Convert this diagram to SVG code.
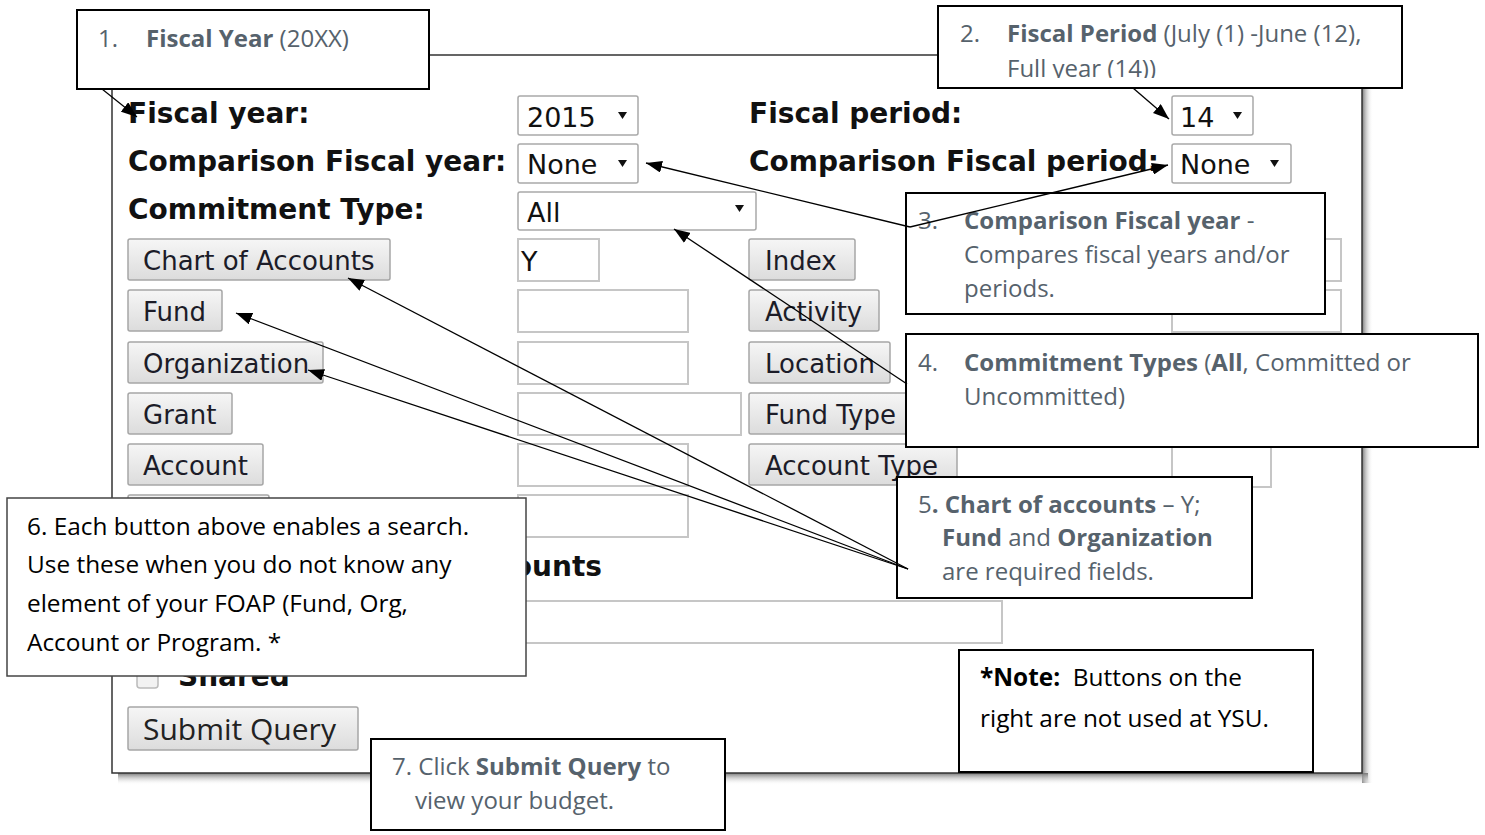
<svg xmlns="http://www.w3.org/2000/svg" width="1485" height="835" viewBox="0 0 1485 835">
<style>
.lbl{font-family:"DejaVu Sans",Verdana,sans-serif;font-weight:bold;font-size:28px;fill:#111}
.btn{fill:url(#btnG);stroke:#a6a6a6;stroke-width:1.5}
.bt{font-family:"DejaVu Sans",Verdana,sans-serif;font-size:26px;fill:#1c1c28}
.inp{fill:#fff;stroke:#c6c6c6;stroke-width:2}
.sel{fill:#fff;stroke:#a9a9a9;stroke-width:1.5}
.st{font-family:"DejaVu Sans",Verdana,sans-serif;font-size:27px;fill:#111}
.box{fill:#fff;stroke:#000;stroke-width:2}
.ct{font-family:"Open Sans","Liberation Sans",sans-serif;font-size:24px;fill:#56626c}
.cb{font-family:"Open Sans","Liberation Sans",sans-serif;font-size:24.4px;fill:#000}
.b{font-weight:bold}
.conn line{stroke:#000;stroke-width:1.3;marker-end:url(#ah)}
</style>
<defs>
<linearGradient id="btnG" x1="0" y1="0" x2="0" y2="1"><stop offset="0" stop-color="#f6f6f6"/><stop offset="1" stop-color="#dcdcdc"/></linearGradient>
<linearGradient id="shR" x1="0" y1="0" x2="1" y2="0"><stop offset="0" stop-color="#777"/><stop offset="1" stop-color="#fff" stop-opacity="0"/></linearGradient>
<linearGradient id="shB" x1="0" y1="0" x2="0" y2="1"><stop offset="0" stop-color="#777"/><stop offset="1" stop-color="#fff" stop-opacity="0"/></linearGradient>
<marker id="ah" markerUnits="userSpaceOnUse" markerWidth="16" markerHeight="12" refX="16" refY="6" orient="auto"><path d="M0,0 L16,6 L0,12 z" fill="#000"/></marker>
<clipPath id="clip2"><rect x="938" y="5" width="464" height="73"/></clipPath>
</defs>
<rect width="1485" height="835" fill="#fff"/>

<g id="frame">
<rect x="1362" y="62" width="11" height="721" fill="url(#shR)"/>
<rect x="118" y="773" width="1250" height="12" fill="url(#shB)"/>
<rect x="112" y="55" width="1250" height="718" fill="#fff" stroke="#333" stroke-width="1.5"/>
</g>

<g id="form">
<text class="lbl" x="128" y="123">Fiscal year:</text>
<text class="lbl" x="128" y="171">Comparison Fiscal year:</text>
<text class="lbl" x="128" y="219">Commitment Type:</text>
<text class="lbl" x="749" y="123">Fiscal period:</text>
<text class="lbl" x="749" y="171">Comparison Fiscal period:</text>

<rect class="sel" x="518" y="96" width="120" height="39" rx="2"/>
<text class="st" x="527" y="127">2015</text>
<polygon points="618,112 627,112 622.5,119" fill="#111"/>
<rect class="sel" x="518" y="144" width="120" height="39" rx="2"/>
<text class="st" x="527" y="174">None</text>
<polygon points="618,160 627,160 622.5,167" fill="#111"/>
<rect class="sel" x="518" y="192" width="238" height="38" rx="2"/>
<text class="st" x="527" y="222">All</text>
<polygon points="735,205 744,205 739.5,212" fill="#111"/>
<rect class="sel" x="1172" y="96" width="81" height="39" rx="2"/>
<text class="st" x="1180" y="127">14</text>
<polygon points="1233,112 1242,112 1237.5,119" fill="#111"/>
<rect class="sel" x="1172" y="144" width="119" height="39" rx="2"/>
<text class="st" x="1180" y="174">None</text>
<polygon points="1270,160 1279,160 1274.5,167" fill="#111"/>

<rect class="btn" x="128" y="239" width="262" height="41" rx="2"/>
<text class="bt" x="143" y="270">Chart of Accounts</text>
<rect class="btn" x="128" y="290" width="94" height="41" rx="2"/>
<text class="bt" x="143" y="321">Fund</text>
<rect class="btn" x="128" y="342" width="195" height="41" rx="2"/>
<text class="bt" x="143" y="373">Organization</text>
<rect class="btn" x="128" y="393" width="104" height="41" rx="2"/>
<text class="bt" x="143" y="424">Grant</text>
<rect class="btn" x="128" y="444" width="135" height="41" rx="2"/>
<text class="bt" x="143" y="475">Account</text>
<rect class="btn" x="128" y="495" width="141" height="41" rx="2"/>

<rect class="inp" x="518" y="239" width="81" height="42"/>
<text class="st" x="521" y="271">Y</text>
<rect class="inp" x="518" y="290" width="170" height="42"/>
<rect class="inp" x="518" y="342" width="170" height="42"/>
<rect class="inp" x="518" y="393" width="223" height="42"/>
<rect class="inp" x="518" y="444" width="170" height="42"/>
<rect class="inp" x="518" y="495" width="170" height="42"/>

<rect class="btn" x="749" y="239" width="106" height="41" rx="2"/>
<text class="bt" x="765" y="270">Index</text>
<rect class="btn" x="749" y="290" width="130" height="41" rx="2"/>
<text class="bt" x="765" y="321">Activity</text>
<rect class="btn" x="749" y="342" width="141" height="41" rx="2"/>
<text class="bt" x="765" y="373">Location</text>
<rect class="btn" x="749" y="393" width="166" height="41" rx="2"/>
<text class="bt" x="765" y="424">Fund Type</text>
<rect class="btn" x="749" y="444" width="208" height="41" rx="2"/>
<text class="bt" x="765" y="475">Account Type</text>

<rect class="inp" x="1172" y="239" width="169" height="42"/>
<rect class="inp" x="1172" y="290" width="169" height="42"/>
<rect class="inp" x="1172" y="445" width="99" height="42"/>

<text class="lbl" x="602" y="576" text-anchor="end">ounts</text>
<rect class="inp" x="520" y="601" width="482" height="42"/>
<rect x="137" y="667" width="21" height="21" rx="3" fill="#f2f2f2" stroke="#bbb" stroke-width="1.5"/>
<text class="lbl" x="178" y="686">Shared</text>
<rect class="btn" x="128" y="707" width="230" height="43" rx="2"/>
<text x="143" y="740" font-family="Open Sans, Liberation Sans, sans-serif" font-size="30" fill="#222">Submit Query</text>
</g>

<g id="c1">
<rect class="box" x="77" y="10" width="352" height="79"/>
<text class="ct" x="98" y="47">1.</text>
<text class="ct" x="146" y="47"><tspan class="b">Fiscal Year</tspan> (20XX)</text>
</g>
<g id="c2">
<rect class="box" x="938" y="6" width="464" height="82"/>
<text class="ct" x="960" y="42">2.</text>
<text class="ct" x="1007" y="42"><tspan class="b">Fiscal Period</tspan> (July (1) -June (12),</text>
<text class="ct" x="1007" y="77" clip-path="url(#clip2)">Full year (14))</text>
</g>
<g id="c3">
<rect class="box" x="906" y="193" width="419" height="121"/>
<text class="ct" x="918" y="229">3.</text>
<text class="ct" x="964" y="229"><tspan class="b">Comparison Fiscal year</tspan> -</text>
<text class="ct" x="964" y="263">Compares fiscal years and/or</text>
<text class="ct" x="964" y="297">periods.</text>
</g>
<g id="c4">
<rect class="box" x="906" y="334" width="572" height="113"/>
<text class="ct" x="918" y="371">4.</text>
<text class="ct" x="964" y="371"><tspan class="b">Commitment Types</tspan> (<tspan class="b">All</tspan>, Committed or</text>
<text class="ct" x="964" y="405">Uncommitted)</text>
</g>
<g id="c5">
<rect class="box" x="897" y="477" width="355" height="121"/>
<text class="ct" x="918" y="513">5<tspan class="b">. Chart of accounts</tspan> – Y;</text>
<text class="ct" x="942" y="546"><tspan class="b">Fund</tspan> and <tspan class="b">Organization</tspan></text>
<text class="ct" x="942" y="580">are required fields.</text>
</g>
<g id="c6">
<rect x="7" y="498" width="519" height="178" fill="#fff" stroke="#444" stroke-width="1.5"/>
<text class="cb" x="27" y="535">6. Each button above enables a search.</text>
<text class="cb" x="27" y="573">Use these when you do not know any</text>
<text class="cb" x="27" y="612">element of your FOAP (Fund, Org,</text>
<text class="cb" x="27" y="651">Account or Program. *</text>
</g>
<g id="c7">
<rect class="box" x="371" y="739" width="354" height="91"/>
<text class="ct" x="392" y="775">7. Click <tspan class="b">Submit Query</tspan> to</text>
<text class="ct" x="415" y="809">view your budget.</text>
</g>
<g id="note">
<rect class="box" x="959" y="650" width="354" height="122"/>
<text class="cb" x="980" y="686" xml:space="preserve"><tspan class="b">*Note:</tspan>  Buttons on the</text>
<text class="cb" x="980" y="727">right are not used at YSU.</text>
</g>

<g class="conn" id="connectors">
<line x1="102" y1="89" x2="137" y2="117"/>
<line x1="1133" y1="88" x2="1169" y2="119"/>
<line x1="910" y1="227" x2="646" y2="163"/>
<line x1="910" y1="227" x2="1168" y2="165"/>
<line x1="907" y1="384" x2="674" y2="229"/>
<line x1="908" y1="569" x2="348" y2="278"/>
<line x1="908" y1="569" x2="236" y2="313"/>
<line x1="908" y1="569" x2="308" y2="370"/>
</g>
</svg>
